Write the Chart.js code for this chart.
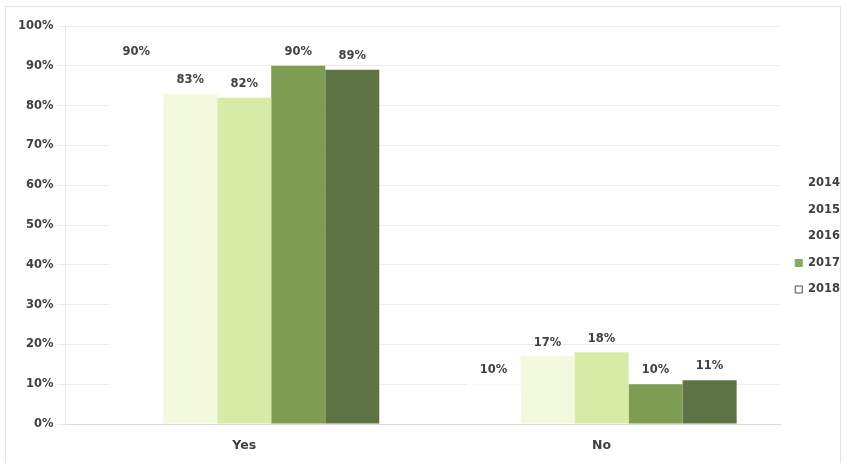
<!DOCTYPE html>
<html>
<head>
<meta charset="utf-8">
<script src="https://cdn.jsdelivr.net/npm/chart.js@4"></script>
<style>
  html, body { margin: 0; padding: 0; background: #ffffff; }
  #wrap { position: relative; width: 846px; height: 463px; }
</style>
</head>
<body>
<div id="wrap"><canvas id="c" width="846" height="463"></canvas></div>
<script>
// Survey answers by year, percent of respondents
const categories = ['Yes', 'No'];
const years = ['2014', '2015', '2016', '2017', '2018'];
const values2014 = [90, 10];
const values2015 = [83, 17];
const values2016 = [82, 18];
const values2017 = [90, 10];
const values2018 = [89, 11];
const yTicks = [0, 10, 20, 30, 40, 50, 60, 70, 80, 90, 100];

const seriesValues = [values2014, values2015, values2016, values2017, values2018];
const barColors = ['#ffffff', '#f3f9dc', '#d7eba6', '#7f9d52', '#5d7343'];
const swatchFill = ['#ffffff', '#ffffff', '#ffffff', '#8aa85a', '#ffffff'];
const swatchStroke = ['#ffffff', '#ffffff', '#ffffff', '#8aa85a', '#4a4a4a'];
const textColor = '#404040';
const fontFamily = '"DejaVu Sans", sans-serif';

// Percentage labels above every bar
const valueLabels = {
  id: 'valueLabels',
  afterDatasetsDraw(chart) {
    const ctx = chart.ctx;
    ctx.save();
    ctx.font = 'bold 11.5px ' + fontFamily;
    ctx.fillStyle = textColor;
    ctx.textAlign = 'center';
    ctx.textBaseline = 'bottom';
    chart.data.datasets.forEach((ds, i) => {
      const meta = chart.getDatasetMeta(i);
      meta.data.forEach((bar, j) => {
        ctx.fillText(ds.data[j] + '%', bar.x, bar.y - 8);
      });
    });
    ctx.restore();
  }
};

// Thin outer frame round the whole chart
const frame = {
  id: 'frame',
  beforeDraw(chart) {
    const ctx = chart.ctx;
    ctx.save();
    ctx.strokeStyle = '#e4e4e4';
    ctx.lineWidth = 1;
    ctx.strokeRect(5.5, 6.5, 835, 460);
    ctx.restore();
  }
};

// Lift the legend block a little so it sits centred on the plot
const legendLift = {
  id: 'legendLift',
  afterLayout(chart) {
    if (chart.legend) {
      chart.legend.top -= 5;
      chart.legend.bottom -= 5;
    }
  }
};

new Chart(document.getElementById('c'), {
  type: 'bar',
  data: {
    labels: categories,
    datasets: years.map((y, i) => ({
      label: y,
      data: seriesValues[i],
      backgroundColor: barColors[i],
      borderWidth: 0,
      barPercentage: 1.0,
      categoryPercentage: 0.756
    }))
  },
  options: {
    responsive: false,
    animation: false,
    devicePixelRatio: 1,
    layout: { padding: { top: 26, right: -4, left: 14, bottom: 6 } },
    plugins: {
      tooltip: { enabled: false },
      legend: {
        position: 'right',
        align: 'center',
        labels: {
          boxWidth: 7,
          boxHeight: 7,
          padding: 15,
          color: textColor,
          font: { family: fontFamily, size: 11.5, weight: 'bold' },
          generateLabels(chart) {
            return chart.data.datasets.map((ds, i) => ({
              text: ds.label,
              fillStyle: swatchFill[i],
              strokeStyle: swatchStroke[i],
              lineWidth: 1,
              fontColor: textColor,
              hidden: false,
              datasetIndex: i
            }));
          }
        }
      }
    },
    scales: {
      x: {
        grid: { display: false, drawTicks: false },
        border: { color: '#d9d9d9' },
        afterFit(scale) { scale.height = 33; },
        ticks: {
          color: textColor,
          padding: 14,
          font: { family: fontFamily, size: 12.5, weight: 'bold' }
        }
      },
      y: {
        min: 0,
        max: 100,
        afterBuildTicks(axis) { axis.ticks = yTicks.map(v => ({ value: v })); },
        grid: { color: '#ececec', drawTicks: true, tickLength: 8 },
        border: { color: '#e6e6e6' },
        ticks: {
          color: textColor,
          padding: 4,
          font: { family: fontFamily, size: 11.5, weight: 'bold' },
          callback: v => v + '%'
        }
      }
    }
  },
  plugins: [valueLabels, frame, legendLift]
});
</script>
</body>
</html>
